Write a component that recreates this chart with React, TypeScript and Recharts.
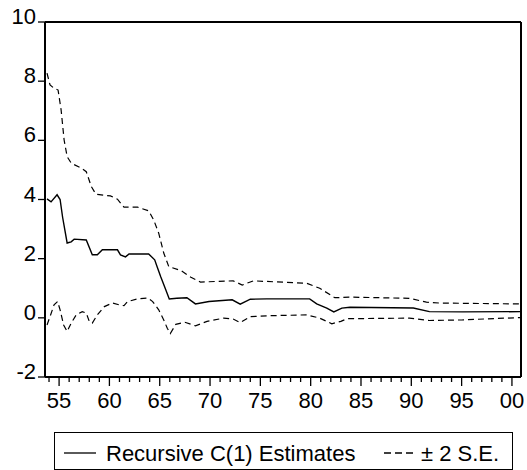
import React from 'react';
import { LineChart, Line, XAxis, YAxis, ReferenceLine } from 'recharts';

// recursive coefficient estimate
const estYears = [1953.8, 1954.2, 1954.8, 1955.1, 1955.35, 1955.8, 1956.2, 1956.5, 1957.7, 1958.3, 1958.8, 1959.3, 1960.8, 1961.1, 1961.6, 1961.95, 1963.9, 1964.5, 1964.75, 1965.1, 1965.6, 1965.95, 1966.7, 1967.7, 1968.55, 1969.9, 1972.2, 1973.0, 1974.0, 1975.65, 1979.9, 1980.6, 1981.6, 1982.3, 1983.1, 1983.9, 1990.2, 1991.8, 1995.1, 2000.8];
const estValues = [4.02, 3.92, 4.16, 4.0, 3.4, 2.53, 2.57, 2.66, 2.63, 2.13, 2.13, 2.3, 2.3, 2.13, 2.06, 2.16, 2.16, 1.96, 1.72, 1.39, 0.95, 0.64, 0.66, 0.68, 0.47, 0.55, 0.61, 0.46, 0.63, 0.64, 0.64, 0.47, 0.33, 0.2, 0.33, 0.36, 0.33, 0.21, 0.2, 0.21];

// +2 S.E. band
const upperYears = [1953.8, 1954.1, 1954.5, 1954.9, 1955.2, 1955.5, 1955.8, 1956.2, 1957.2, 1957.7, 1958.2, 1958.65, 1960.1, 1960.8, 1961.45, 1962.8, 1963.9, 1964.4, 1964.9, 1965.4, 1965.9, 1967.1, 1968.1, 1969.05, 1972.3, 1973.2, 1974.3, 1979.6, 1980.9, 1982.4, 1983.9, 1989.8, 1991.5, 1992.8, 2000.8];
const upperValues = [8.27, 7.87, 7.76, 7.7, 7.03, 6.01, 5.45, 5.23, 5.06, 4.94, 4.44, 4.18, 4.12, 4.01, 3.74, 3.74, 3.62, 3.31, 2.86, 2.19, 1.73, 1.6, 1.37, 1.21, 1.25, 1.11, 1.25, 1.17, 1.0, 0.68, 0.7, 0.66, 0.53, 0.5, 0.47];

// -2 S.E. band
const lowerYears = [1953.8, 1954.1, 1954.5, 1954.85, 1955.1, 1955.45, 1955.8, 1956.2, 1956.7, 1957.3, 1957.7, 1958.0, 1958.3, 1958.8, 1959.5, 1960.3, 1960.95, 1961.45, 1961.8, 1962.8, 1963.8, 1964.3, 1964.9, 1965.4, 1965.75, 1966.05, 1966.6, 1967.5, 1968.55, 1969.7, 1971.35, 1972.3, 1973.0, 1974.0, 1975.65, 1979.6, 1980.9, 1982.1, 1983.0, 1983.6, 1989.8, 1991.8, 1995.1, 2000.8];
const lowerValues = [-0.24, 0.04, 0.44, 0.55, 0.27, -0.24, -0.46, -0.18, 0.1, 0.21, 0.16, -0.12, -0.18, 0.1, 0.38, 0.5, 0.44, 0.41, 0.55, 0.64, 0.67, 0.55, 0.27, -0.07, -0.35, -0.53, -0.22, -0.15, -0.27, -0.12, -0.01, -0.04, -0.16, 0.04, 0.07, 0.1, -0.01, -0.2, -0.12, -0.03, -0.01, -0.09, -0.07, 0.01];

const yearTicks = Array.from({ length: 47 }, (_, i) => 1954 + i);
const valueTicks = [-2, 0, 2, 4, 6, 8, 10];
const X_DOMAIN = [1953.6, 2000.9];
const Y_DOMAIN = [-2, 10];

const FONT = '"Liberation Sans", Arial, sans-serif';

const toRows = (years: number[], values: number[]) =>
    years.map((year, i) => ({ year, value: values[i] }));

const XTick = (props: any) => {
    const { x, y, payload } = props;
    const year = payload.value as number;
    const major = year % 5 === 0;
    return (
        <g>
            <line x1={x} x2={x} y1={y} y2={y + (major ? 9 : 5)} stroke="#000" strokeWidth={1.3} />
            {major && (
                <text x={x} y={y + 31} textAnchor="middle" fontSize={22} fontFamily={FONT} fill="#000">
                    {String(year % 100).padStart(2, '0')}
                </text>
            )}
        </g>
    );
};

const YTick = (props: any) => {
    const { x, y, payload } = props;
    return (
        <g>
            <line x1={x - 7} x2={x} y1={y} y2={y} stroke="#000" strokeWidth={1.3} />
            <text x={x - 9} y={y + 2} textAnchor="end" fontSize={22} fontFamily={FONT} fill="#000">
                {payload.value}
            </text>
        </g>
    );
};

const App: React.FC = () => {
    const est = toRows(estYears, estValues);
    const upper = toRows(upperYears, upperValues);
    const lower = toRows(lowerYears, lowerValues);

    return (
        <div style={{ position: 'absolute', left: 0, top: 0, width: 527, height: 470, background: '#fff' }}>
            <LineChart width={527} height={470} margin={{ top: 22, right: 6, bottom: 53, left: 0 }}>
                <XAxis
                    dataKey="year"
                    type="number"
                    domain={X_DOMAIN}
                    ticks={yearTicks}
                    interval={0}
                    height={40}
                    tickSize={0}
                    tickMargin={0}
                    tickLine={false}
                    tick={<XTick />}
                    axisLine={{ stroke: '#000', strokeWidth: 2 }}
                    allowDataOverflow
                />
                <YAxis
                    domain={Y_DOMAIN}
                    ticks={valueTicks}
                    interval={0}
                    width={45}
                    tickSize={0}
                    tickMargin={0}
                    tickLine={false}
                    tick={<YTick />}
                    axisLine={{ stroke: '#000', strokeWidth: 2 }}
                    allowDataOverflow
                />
                {/* frame: top and right edges */}
                <ReferenceLine y={10} stroke="#000" strokeWidth={2} />
                <ReferenceLine x={2000.9} stroke="#000" strokeWidth={2} />
                <Line data={upper} dataKey="value" type="linear" stroke="#000" strokeWidth={1.2} strokeDasharray="6 4" dot={false} isAnimationActive={false} />
                <Line data={lower} dataKey="value" type="linear" stroke="#000" strokeWidth={1.2} strokeDasharray="6 4" dot={false} isAnimationActive={false} />
                <Line data={est} dataKey="value" type="linear" stroke="#000" strokeWidth={1.4} dot={false} isAnimationActive={false} />
            </LineChart>
            <div
                style={{
                    position: 'absolute', left: 54, top: 432, width: 457, height: 36,
                    border: '1px solid #000', fontFamily: FONT, fontSize: 22, color: '#000',
                }}
            >
                <svg width={457} height={36} style={{ position: 'absolute', left: 0, top: 0 }}>
                    <line x1={9} x2={41} y1={20} y2={20} stroke="#000" strokeWidth={1.3} />
                    <text x={51} y={28} fontSize={22} fontFamily={FONT}>Recursive C(1) Estimates</text>
                    <line x1={329} x2={359} y1={20} y2={20} stroke="#000" strokeWidth={1.3} strokeDasharray="7 4" />
                    <text x={366} y={28} fontSize={22} fontFamily={FONT}>± 2 S.E.</text>
                </svg>
            </div>
        </div>
    );
};

export default App;
